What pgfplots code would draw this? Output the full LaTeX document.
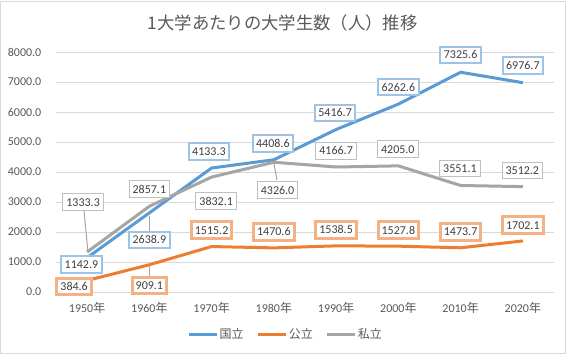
\documentclass[border=0pt]{standalone}
\usepackage{pgfplots}
\pgfplotsset{compat=1.18}
\usepackage{pgfplotstable}
\usepackage{fontspec}
\setmainfont{Carlito}
\newfontfamily\cjk{Noto Sans CJK JP}
\definecolor{cBlue}{HTML}{5B9BD5}
\definecolor{cOrange}{HTML}{ED7D31}
\definecolor{cGray}{HTML}{A5A5A5}
\definecolor{bBlue}{HTML}{9DC3E6}
\definecolor{bOrange}{HTML}{F4B183}
\definecolor{bGray}{HTML}{BFBFBF}
\definecolor{cGrid}{HTML}{D9D9D9}
\definecolor{cText}{HTML}{404040}
\definecolor{cTick}{HTML}{595959}
\definecolor{cLeader}{HTML}{A6A6A6}

% x = category index, y = value, dx/dy = label offset in pt
\pgfplotstableread{
x y dx dy
0 1142.9 -4.3 -5.25
1 2638.9 0 -20.25
2 4133.3 -2.0 12.4
3 4408.6 -0.75 12
4 5416.7 -0.75 12.5
5 6262.6 0 12.75
6 7325.6 0 13
7 6976.7 0 12.75
}\kokuritsu
\pgfplotstableread{
x y dx dy
0 384.6 -9.75 -4.5
1 909.1 0 -15.5
2 1515.2 0 12.4
3 1470.6 0 12
4 1538.5 0 12
5 1527.8 0 12
6 1473.7 0 12
7 1702.1 0 12
}\kouritsu
\pgfplotstableread{
x y dx dy
0 1333.3 -3 37.3
1 2857.1 0 12.9
2 3832.1 3.4 -18
3 4326.0 2.8 -21
4 4166.7 0 12.2
5 4205.0 -0.4 12.5
6 3551.1 -0.5 12.75
7 3512.2 -0.4 12
}\shiritsu

\begin{document}
\begin{tikzpicture}
\useasboundingbox (-42pt,-47.25pt) rectangle (384.75pt,219pt);
\fill[white] (-42pt,-47.25pt) rectangle (384.75pt,219pt);
\draw[cGrid, line width=0.75pt] (-41.25pt,-45.75pt) rectangle (381.75pt,218.25pt);
\begin{axis}[
  at={(0,0)}, anchor=south west,
  scale only axis,
  width=373.5pt, height=180pt,
  xmin=-0.5, xmax=7.5,
  ymin=0, ymax=8000,
  ytick={0,1000,...,8000},
  xtick={0,...,7},
  xticklabels={1950{\cjk 年},1960{\cjk 年},1970{\cjk 年},1980{\cjk 年},1990{\cjk 年},2000{\cjk 年},2010{\cjk 年},2020{\cjk 年}},
  axis line style={draw=none},
  major tick length=0pt,
  ymajorgrids,
  major grid style={cGrid, line width=0.75pt},
  clip=false,
  /pgf/number format/.cd, fixed, fixed zerofill, precision=1, 1000 sep={}, assume math mode=true,
  /pgfplots/.cd,
  yticklabel style={font=\fontsize{9}{10}\selectfont, text=cTick, anchor=east, xshift=-7.5pt},
  xticklabel style={font=\fontsize{9}{10}\selectfont, text=cTick, anchor=center, yshift=-12pt},
  legend columns=3,
  legend style={at={(0.4605,-0.176)}, anchor=center, draw=none, fill=none,
    font=\cjk\fontsize{9}{10}\selectfont, text=cTick,
    nodes={inner xsep=0.8pt, inner ysep=1pt},
    /tikz/every even column/.append style={column sep=9pt}},
  legend image code/.code={\draw[#1, line width=2.25pt] (0pt,0pt) -- (21pt,0pt);},
]
\addplot[cBlue, line width=2.25pt, mark=none] table[x=x, y=y] {\kokuritsu};
\addlegendentry{国立}
\addplot[cOrange, line width=2.25pt, mark=none] table[x=x, y=y] {\kouritsu};
\addlegendentry{公立}
\addplot[cGray, line width=2.25pt, mark=none] table[x=x, y=y] {\shiritsu};
\addlegendentry{私立}

% leader lines
\addplot[cLeader, line width=0.75pt, forget plot] coordinates {(0.01,1400) (-0.05,2717)};
\addplot[cLeader, line width=0.75pt, forget plot] coordinates {(1,2540) (1,2010)};
\addplot[cLeader, line width=0.75pt, forget plot] coordinates {(1,890) (1,510)};
\addplot[cLeader, line width=0.75pt, forget plot] coordinates {(3.0,4300) (3.05,3733)};

% data labels
\pgfplotsset{lbl/.style={
  draw=none, mark=none, forget plot,
  nodes near coords,
  visualization depends on={\thisrow{dx}\as\lblx},
  visualization depends on={\thisrow{dy}\as\lbly},
  every node near coord/.append style={anchor=center, xshift=\lblx pt, yshift=\lbly pt,
    fill=white, text=cText, font=\fontsize{9}{10}\selectfont,
    inner xsep=2.6pt, inner ysep=3pt, text height=6.3pt, text depth=0.2pt, #1}}}
\addplot[lbl={draw=bBlue, line width=1.5pt}] table[x=x, y=y] {\kokuritsu};
\addplot[lbl={draw=bOrange, line width=2.25pt}] table[x=x, y=y] {\kouritsu};
\addplot[lbl={draw=bGray, line width=0.75pt}] table[x=x, y=y] {\shiritsu};
\end{axis}
\node[font=\cjk\fontsize{13}{15}\selectfont, text=cTick] at (169.9pt,201.75pt) {1大学あたりの大学生数（人）推移};
\end{tikzpicture}
\end{document}
